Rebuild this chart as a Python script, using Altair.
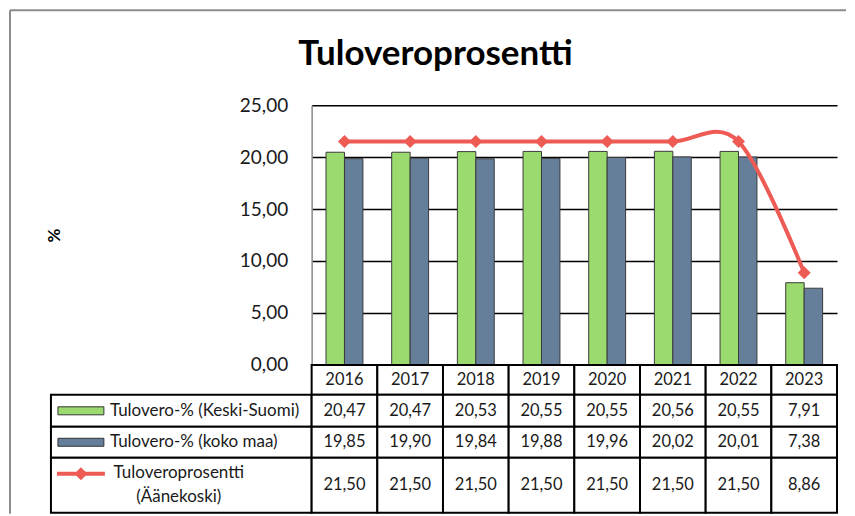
import altair as alt
import pandas as pd

# ---------------- data ----------------
years = ["2016", "2017", "2018", "2019", "2020", "2021", "2022", "2023"]
keski_suomi = [20.47, 20.47, 20.53, 20.55, 20.55, 20.56, 20.55, 7.91]
koko_maa = [19.85, 19.90, 19.84, 19.88, 19.96, 20.02, 20.01, 7.38]
aanekoski = [21.50, 21.50, 21.50, 21.50, 21.50, 21.50, 21.50, 8.86]
series_names = ["Tulovero-% (Keski-Suomi)", "Tulovero-% (koko maa)", "Tuloveroprosentti (Äänekoski)"]
row_labels = ["Tulovero-% (Keski-Suomi)", "Tulovero-% (koko maa)", "Tuloveroprosentti\n(Äänekoski)"]
y_ticks = [0, 5, 10, 15, 20, 25]
chart_title = "Tuloveroprosentti"

# ---------------- style / layout ----------------
GREEN = "#9BDA6E"
BLUE = "#657F9A"
RED = "#EE5B54"
FONT = "Lato"
TXT = "#1a1a1a"

PLOT_W, PLOT_H = 526, 260
LABEL_W = 261
ROW_H = [30, 32, 31, 55]
edges = [0]
for h in ROW_H:
    edges.append(edges[-1] + h)
TABLE_H = edges[-1]

fmt = "replace(format(datum.value, '.2f'), '.', ',')"

# ---------------- main plot ----------------
bars_df = pd.DataFrame({
    "year": years * 2,
    "series": [series_names[0]] * len(years) + [series_names[1]] * len(years),
    "value": keski_suomi + koko_maa,
})
line_df = pd.DataFrame({"year": years, "value": aanekoski})

x_scale = alt.Scale(domain=years, paddingInner=0, paddingOuter=0)
y_scale = alt.Scale(domain=[0, 25], nice=False, zero=True)

bars = alt.Chart(bars_df).mark_bar(stroke="#3a3a3a", strokeWidth=1).encode(
    x=alt.X("year:N", scale=x_scale, axis=None),
    xOffset=alt.XOffset("series:N", scale=alt.Scale(domain=series_names[:2], paddingInner=0, paddingOuter=0.78)),
    y=alt.Y("value:Q", scale=y_scale, axis=alt.Axis(
        values=y_ticks, labelExpr=fmt, grid=True, gridColor="black", gridWidth=1.5,
        ticks=False, domainColor="#8a8a8a", domainWidth=1.5,
        labelFont=FONT, labelFontSize=19, labelColor=TXT, labelPadding=24,
        title="%", titleAngle=-90, titleX=-257, titleY=130, titleFont=FONT,
        titleFontSize=17, titleFontWeight="bold", titleColor="black",
        titleAlign="center", titleBaseline="middle")),
    color=alt.Color("series:N", scale=alt.Scale(domain=series_names[:2], range=[GREEN, BLUE]), legend=None),
)
line = alt.Chart(line_df).mark_line(color=RED, strokeWidth=4, interpolate="cardinal").encode(
    x=alt.X("year:N", scale=x_scale, axis=None),
    y=alt.Y("value:Q", scale=y_scale),
)
points = alt.Chart(line_df).mark_point(shape="diamond", filled=True, size=170, color=RED, opacity=1).encode(
    x=alt.X("year:N", scale=x_scale, axis=None),
    y=alt.Y("value:Q", scale=y_scale),
)
main = alt.layer(bars, line, points).properties(width=PLOT_W, height=PLOT_H)

# ---------------- top-left cell: title text and outer frame ----------------
one = pd.DataFrame({"k": [0]})
frame_left = alt.Chart(one).mark_rule(color="#8c8c8c", strokeWidth=2).encode(
    x=alt.value(-41), y=alt.value(-95), y2=alt.value(409))
frame_top = alt.Chart(one).mark_rule(color="#8c8c8c", strokeWidth=2).encode(
    x=alt.value(-41), x2=alt.value(796), y=alt.value(-95))
title_txt = alt.Chart(pd.DataFrame({"t": [chart_title]})).mark_text(
    font=FONT, fontSize=35, fontWeight="bold", color="black", align="center", baseline="alphabetic"
).encode(text="t:N", x=alt.value(385), y=alt.value(-40))
topleft = alt.layer(frame_left, frame_top, title_txt).properties(width=LABEL_W, height=PLOT_H)

# ---------------- data table (right) ----------------
rows = []
for i, y in enumerate(years):
    rows.append({"year": y, "row": 0, "value": None})
for r, vals in enumerate([keski_suomi, koko_maa, aanekoski], start=1):
    for y, v in zip(years, vals):
        rows.append({"year": y, "row": r, "value": v})
cells_df = pd.DataFrame(rows)
edges_js = "[" + ",".join(str(e) for e in edges) + "]"

tbl_y = alt.Scale(domain=[0, TABLE_H], reverse=True, nice=False, zero=False)

cells_base = alt.Chart(cells_df).transform_calculate(
    top=f"{edges_js}[datum.row]",
    bottom=f"{edges_js}[datum.row + 1]",
    mid=f"({edges_js}[datum.row] + {edges_js}[datum.row + 1]) / 2",
    label=f"datum.row == 0 ? datum.year : {fmt}",
)
cell_rects = cells_base.mark_rect(fill="white", stroke="black", strokeWidth=2).encode(
    x=alt.X("year:N", scale=x_scale, axis=None),
    y=alt.Y("top:Q", scale=tbl_y, axis=None),
    y2="bottom:Q",
)
cell_text = cells_base.mark_text(font=FONT, fontSize=16.5, color=TXT, baseline="middle").encode(
    x=alt.X("year:N", scale=x_scale, axis=None),
    y=alt.Y("mid:Q", scale=tbl_y, axis=None),
    text="label:N",
)
right_table = alt.layer(cell_rects, cell_text).properties(width=PLOT_W, height=TABLE_H)

# ---------------- legend column (left) ----------------
lab_df = pd.DataFrame({
    "row": [1, 2, 3],
    "label": row_labels,
    "series": series_names,
})
lab_base = alt.Chart(lab_df).transform_calculate(
    top=f"{edges_js}[datum.row]",
    bottom=f"{edges_js}[datum.row + 1]",
    mid=f"({edges_js}[datum.row] + {edges_js}[datum.row + 1]) / 2",
    s1=f"({edges_js}[datum.row] + {edges_js}[datum.row + 1]) / 2 - 4",
    s2=f"({edges_js}[datum.row] + {edges_js}[datum.row + 1]) / 2 + 4",
    ln=f"{edges_js}[datum.row] + 16",
)
lab_rects = lab_base.mark_rect(fill="white", stroke="black", strokeWidth=2).encode(
    x=alt.value(0), x2=alt.value(LABEL_W),
    y=alt.Y("top:Q", scale=tbl_y, axis=None), y2="bottom:Q",
)
sw = lab_base.transform_filter("datum.row < 3").mark_rect(stroke="#333333", strokeWidth=1).encode(
    x=alt.value(7), x2=alt.value(53),
    y=alt.Y("s1:Q", scale=tbl_y, axis=None), y2="s2:Q",
    color=alt.Color("series:N", scale=alt.Scale(domain=series_names[:2], range=[GREEN, BLUE]), legend=None),
)
sw_line = lab_base.transform_filter("datum.row == 3").mark_rule(color=RED, strokeWidth=4).encode(
    x=alt.value(6), x2=alt.value(54),
    y=alt.Y("ln:Q", scale=tbl_y, axis=None),
)
sw_pt = lab_base.transform_filter("datum.row == 3").mark_point(
    shape="diamond", filled=True, size=170, color=RED, opacity=1).encode(
    x=alt.value(30),
    y=alt.Y("ln:Q", scale=tbl_y, axis=None),
)
lab_text12 = lab_base.transform_filter("datum.row < 3").mark_text(
    font=FONT, fontSize=17, color=TXT, align="left", baseline="middle").encode(
    x=alt.value(59), y=alt.Y("mid:Q", scale=tbl_y, axis=None), text="label:N")
lab_text3 = lab_base.transform_filter("datum.row == 3").mark_text(
    font=FONT, fontSize=17, color=TXT, align="center", baseline="middle", lineBreak="\n",
    lineHeight=24, dy=-12).encode(
    x=alt.value(128), y=alt.Y("mid:Q", scale=tbl_y, axis=None), text="label:N")
left_table = alt.layer(lab_rects, sw, sw_line, sw_pt, lab_text12, lab_text3).properties(
    width=LABEL_W, height=TABLE_H)

chart = alt.concat(topleft, main, left_table, right_table, columns=2, spacing=0, bounds="flush").properties(
    padding={"left": 1, "top": 1, "right": 0, "bottom": 0}, background="white"
).configure_view(stroke="transparent", strokeWidth=0)

chart.save("out.html", embed_options={"renderer": "svg", "actions": False})
